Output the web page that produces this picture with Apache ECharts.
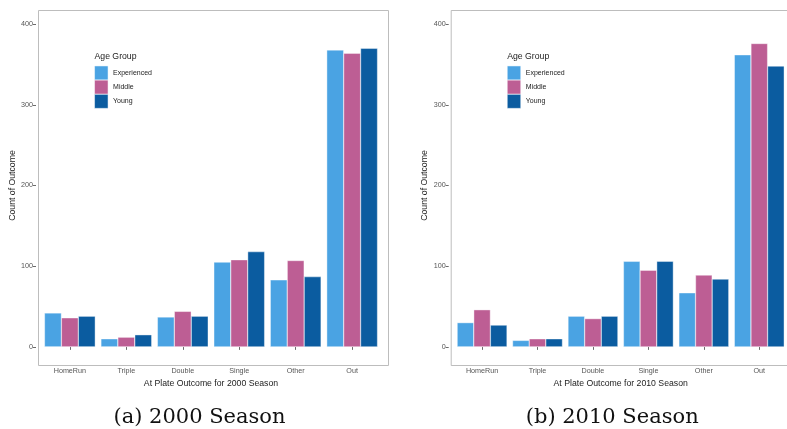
<!DOCTYPE html>
<html>
<head>
<meta charset="utf-8">
<script src="https://cdn.jsdelivr.net/npm/echarts@6/dist/echarts.min.js"></script>
<style>html,body{margin:0;padding:0;background:#fff}#c{width:787px;height:429px}</style>
</head>
<body>
<div id="c"></div>
<script>
const categories = ['HomeRun', 'Triple', 'Double', 'Single', 'Other', 'Out'];
const groups = ['Experienced', 'Middle', 'Young'];
const season2000 = {
  Experienced: [42, 10, 37, 105, 83, 368],
  Middle: [36, 12, 44, 108, 107, 364],
  Young: [38, 15, 38, 118, 87, 370]
};
const season2010 = {
  Experienced: [30, 8, 38, 106, 67, 362],
  Middle: [46, 10, 35, 95, 89, 376],
  Young: [27, 10, 38, 106, 84, 348]
};
const yTicks = [0, 100, 200, 300, 400];
const colors = { Experienced: '#4AA3E3', Middle: '#BD5E94', Young: '#0B5CA0' };

const sans = 'Liberation Sans, Arial, sans-serif';
const serif = 'DejaVu Serif, Liberation Serif, serif';

const panels = [
  { data: season2000, left: 36, xname: 'At Plate Outcome for 2000 Season', caption: '(a) 2000 Season' },
  { data: season2010, left: 448.7, xname: 'At Plate Outcome for 2010 Season', caption: '(b) 2010 Season' }
];
const unit = 350 / 6.2;
const innerPad = 0.1 * unit;
const innerW = unit * 6;

const grids = [], xAxes = [], yAxes = [], series = [], legends = [], titles = [], graphics = [];
panels.forEach((p, i) => {
  grids.push({ left: p.left + innerPad, top: 8, width: innerW, height: 355, containLabel: false });
  xAxes.push({
    type: 'category', gridIndex: i, data: categories,
    axisLine: { show: false },
    axisTick: { show: true, alignWithLabel: true, length: 3, lineStyle: { color: '#444', width: 0.8 } },
    axisLabel: { fontFamily: sans, fontSize: 7.2, color: '#555', margin: 4.5 },
    name: p.xname, nameLocation: 'middle', nameGap: 11,
    nameTextStyle: { fontFamily: sans, fontSize: 8.7, color: '#222', verticalAlign: 'top' }
  });
  yAxes.push({
    type: 'value', gridIndex: i, min: -20, max: 420, offset: innerPad,
    splitLine: { show: false },
    axisLine: { show: false },
    axisTick: { show: true, length: 3, customValues: yTicks, lineStyle: { color: '#444', width: 0.8 } },
    axisLabel: { fontFamily: sans, fontSize: 7.2, color: '#555', margin: 3, customValues: yTicks },
    name: 'Count of Outcome', nameLocation: 'middle', nameGap: 19.3,
    nameTextStyle: { fontFamily: sans, fontSize: 8.7, color: '#222' }
  });
  groups.forEach(g => {
    series.push({
      type: 'bar', name: g, xAxisIndex: i, yAxisIndex: i,
      data: p.data[g], barGap: '0%', barCategoryGap: '10%',
      itemStyle: { color: colors[g], borderColor: '#fff', borderWidth: 0.4 },
      emphasis: { disabled: true }
    });
  });
  graphics.push({
    type: 'rect', left: p.left, top: 8, silent: true,
    shape: { width: 350, height: 355 },
    style: { fill: 'none', stroke: '#bdbdbd', lineWidth: 1 }
  });
  legends.push({
    data: groups, orient: 'vertical', left: p.left + 58.3, top: 65.7,
    itemWidth: 13.5, itemHeight: 14, itemGap: -0.3, icon: 'rect', selectedMode: false,
    itemStyle: { borderWidth: 0.5, borderColor: '#fff' },
    textStyle: { fontFamily: sans, fontSize: 7, color: '#222' },
    padding: 0
  });
  titles.push({
    text: 'Age Group', left: p.left + 58.5, top: 52.5, padding: 0,
    textStyle: { fontFamily: sans, fontSize: 8.7, fontWeight: 'normal', color: '#222' }
  });
  titles.push({
    text: p.caption, left: p.left + 163.5, top: 407, textAlign: 'center', padding: 0,
    textStyle: { fontFamily: serif, fontSize: 21, fontWeight: 'normal', color: '#111' }
  });
});

const chart = echarts.init(document.getElementById('c'), null, { renderer: 'canvas' });
chart.setOption({
  animation: false,
  backgroundColor: '#fff',
  title: titles,
  legend: legends,
  grid: grids,
  xAxis: xAxes,
  yAxis: yAxes,
  series: series,
  graphic: graphics
});
</script>
</body>
</html>
